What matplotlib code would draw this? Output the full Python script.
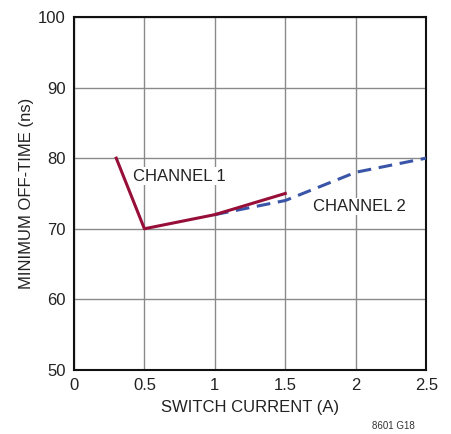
import matplotlib
matplotlib.use("Agg")
import matplotlib.pyplot as plt
from matplotlib import font_manager

names = {f.name for f in font_manager.fontManager.ttflist}
fam = "Liberation Sans Narrow" if "Liberation Sans Narrow" in names else "Liberation Sans"
plt.rcParams['font.family'] = [fam, 'DejaVu Sans']

ch1_x = [0.3, 0.5, 1.0, 1.5]
ch1_y = [80, 70, 72, 75]
ch2_x = [1.0, 1.5, 2.0, 2.5]
ch2_y = [72, 74, 78, 80]
xticks = [0, 0.5, 1, 1.5, 2, 2.5]
xticklabels = ["0", "0.5", "1", "1.5", "2", "2.5"]
yticks = [50, 60, 70, 80, 90, 100]

fig = plt.figure(figsize=(4.51, 4.34), dpi=100)
ax = fig.add_axes([0.164, 0.1475, 0.781, 0.8135])
ax.set_xlim(0, 2.5)
ax.set_ylim(50, 100)
ax.set_xticks(xticks)
ax.set_xticklabels(xticklabels)
ax.set_yticks(yticks)
ax.grid(True, color="#8a8a8a", lw=1.0, zorder=0)
ax.tick_params(length=0, labelsize=12, pad=6, colors="#222222")
for s in ax.spines.values():
    s.set_linewidth(1.5)
    s.set_color("#111111")

ax.plot(ch2_x, ch2_y, color="#3a55a8", lw=2.2, ls=(0, (4.5, 2.5)), zorder=3)
ax.plot(ch1_x, ch1_y, color="#970f38", lw=2.2, zorder=4)

ax.text(0.42, 76.8, "CHANNEL 1", fontsize=12, color="#222222", zorder=2,
        bbox=dict(facecolor="white", edgecolor="none", pad=1))
ax.text(1.7, 72.5, "CHANNEL 2", fontsize=12, color="#222222", zorder=2,
        bbox=dict(facecolor="white", edgecolor="none", pad=1))

ax.set_xlabel("SWITCH CURRENT (A)", fontsize=12, color="#222222", labelpad=5)
ax.set_ylabel("MINIMUM OFF-TIME (ns)", fontsize=12, color="#222222", labelpad=3)
fig.text(0.92, 0.008, "8601 G18", fontsize=7, color="#333333", ha="right", va="bottom")

fig.savefig("out.png", dpi=100)
